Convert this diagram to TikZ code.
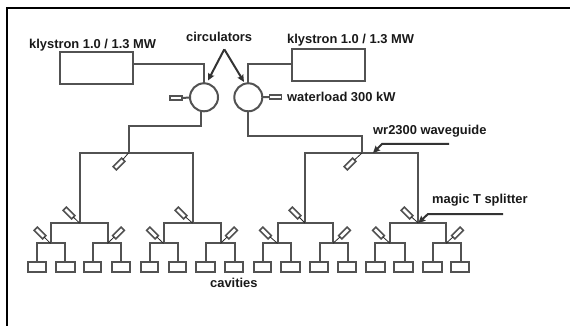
\documentclass[tikz,border=0pt]{standalone}
\usepackage{fontspec}
\setmainfont{Liberation Sans}
\usetikzlibrary{arrows.meta}
\tikzset{
  wire/.style={draw=black!68,line width=2pt},
  stemline/.style={draw=black!85,line width=0.8pt},
  boxn/.style={draw=black!68,line width=2pt,fill=white,inner sep=0pt,outer sep=0pt},
  circ/.style={draw=black!68,line width=2pt,fill=white,circle,inner sep=0pt,outer sep=0pt,minimum size=28pt},
  load/.style={boxn,line width=1.6pt,minimum width=12pt,minimum height=4pt},
  splitter/.style={boxn,line width=1.6pt,minimum width=12pt,minimum height=4.5pt},
  lbl/.style={font=\fontsize{12.9pt}{14pt}\selectfont\bfseries,inner sep=0pt,anchor=base west,text=black!90},
  callout/.style={draw=black!80,line width=2pt,-{Stealth[length=7pt,width=6.5pt,inset=1pt]}},
}
\begin{document}
\begin{tikzpicture}[x=1pt,y=-1pt]
\useasboundingbox (0,0) rectangle (570,326);
% frame
\coordinate (fa) at (7,326); \coordinate (fb) at (7,8.5); \coordinate (fc) at (570,8.5);
\draw[line width=2pt,black] (fa) -- (fb) -- (fc);
% klystrons
\node[boxn,minimum width=73pt,minimum height=32pt] (k1) at (96,68) {};
\node[boxn,minimum width=73pt,minimum height=32pt] (k2) at (328.5,65.5) {};
% circulators
\node[circ] (c1) at (204,97.3) {};
\node[circ] (c2) at (248.3,97.3) {};
% water loads
\node[load] (w1) at (176,98) {};
\node[load] (w2) at (275.5,97) {};
\draw[wire] (w1) -- (c1);
\draw[wire] (c2) -- (w2);
% klystron to circulator
\draw[wire] (k1.east |- 0,64) -| (c1.north);
\draw[wire] (k2.west |- 0,64.5) -| (c2.north);
% trunk waveguides
\coordinate (t1) at (128.5,153);
\coordinate (t2) at (362,153);
\coordinate (s1) at (200.5,111);
\draw[wire] (s1) |- (128.5,126.5) -- (t1);
\draw[wire] (c2.south) |- (362,136) -- (t2);
% first-level splitters
\draw[wire] (79.5,223) |- (192.5,153) -- (192.5,223);
\draw[wire] (305,223) |- (418.3,153) -- (418.3,223);
\node[splitter,rotate=45] (m1) at (119,164) {};
\node[splitter,rotate=45] (m2) at (350,164) {};
\draw[stemline] (t1) -- (m1);
\draw[stemline] (t2) -- (m2);
% second-level junctions
\foreach \id/\x/\lx/\rx/\sx in {a/79.5/50.5/107.5/69,b/192.5/163.5/220.5/181,c/305/277.5/333/295,d/418.3/390/446/407}{
  \coordinate (j\id) at (\x,223);
  \draw[wire] (\lx,243.3) |- (\rx,223) -- (\rx,243.3);
  \node[splitter,rotate=-45] (sp\id) at (\sx,213) {};
  \draw[stemline] (j\id) -- (sp\id);
}
% third level
\foreach \id/\jx/\lx/\rx/\aa/\ab/\ba/\bb/\sx/\ang in {
  p/50.5/37/65/28/45.5/56/74.5/40/-45,
  q/107.5/93/121/84/100.5/112/130/118.5/45,
  r/163.5/150/178/140.5/158/168.5/186/152.5/-45,
  s/220.5/206/235/196/215/224.5/243/231.5/45,
  t/277.5/263/291/253.5/271/281/300/265.5/-45,
  u/333/319.7/347.7/310.3/328/338/355.7/344.5/45,
  v/390/375.3/404.7/366/385/393.7/412.7/378.5/-45,
  w/446/432.7/460.7/423/441.7/451/468.7/457.5/45}{
  \pgfmathsetmacro{\wa}{\ab-\aa}
  \pgfmathsetmacro{\wb}{\bb-\ba}
  \pgfmathsetmacro{\ca}{(\ab+\aa)/2}
  \pgfmathsetmacro{\cb}{(\bb+\ba)/2}
  \node[boxn,minimum width=\wa pt,minimum height=9.7pt] (cav\id1) at (\ca,266.8) {};
  \node[boxn,minimum width=\wb pt,minimum height=9.7pt] (cav\id2) at (\cb,266.8) {};
  \coordinate (l\id) at (\lx,243.3);
  \coordinate (r\id) at (\rx,243.3);
  \coordinate (j\id) at (\jx,243.3);
  \draw[wire] (l\id |- cav\id1.north) -- (l\id) -- (r\id) -- (r\id |- cav\id2.north);
  \node[splitter,rotate=\ang] (sp\id) at (\sx,233) {};
  \draw[stemline] (j\id) -- (sp\id);
}
% labels
\node[lbl] (t1k) at (29,48.5) {klystron 1.0 / 1.3 MW};
\node[lbl] (t2k) at (287,44) {klystron 1.0 / 1.3 MW};
\node[lbl] (tc) at (186,41.5) {circulators};
\node[lbl] (tw) at (287,101.5) {waterload 300 kW};
\node[lbl] (tg) at (373,134.5) {wr2300 waveguide};
\node[lbl] (tm) at (432,203) {magic T splitter};
\node[lbl] (tv) at (210,287.5) {cavities};
% callouts
\coordinate (ap) at (224.3,49.3);
\coordinate (ctl) at (208,80.5);
\coordinate (ctr) at (244,82);
\draw[callout] (ap) -- (ctl);
\draw[callout] (ap) -- (ctr);
\coordinate (ga) at (449,144); \coordinate (gb) at (382,144); \coordinate (gc) at (373,153);
\draw[callout] (ga) -- (gb) -- (gc);
\coordinate (ma) at (503,214); \coordinate (mb) at (428,214); \coordinate (mc) at (418.3,223);
\draw[callout] (ma) -- (mb) -- (mc);
\end{tikzpicture}
\end{document}
